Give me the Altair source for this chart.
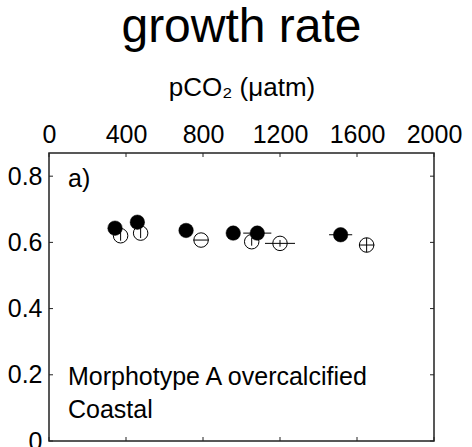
import altair as alt
import pandas as pd

# ---- data ----
filled_x = [343, 459, 712, 957, 1082, 1515]
filled_y = [0.643, 0.661, 0.636, 0.628, 0.628, 0.623]
filled_xerr = [0, 0, 0, 0, 73, 60]
filled_yerr = [0, 0, 0, 0, 0, 0]

open_x = [372, 476, 790, 1053, 1200, 1650]
open_y = [0.620, 0.628, 0.607, 0.602, 0.597, 0.592]
open_xerr = [0, 0, 40, 0, 78, 40]
open_yerr = [0.015, 0.015, 0, 0.012, 0.010, 0.022]

x_ticks = [0, 400, 800, 1200, 1600, 2000]
y_ticks = [0, 0.2, 0.4, 0.6, 0.8]

W, H = 385, 288
FONT = "Liberation Sans"

filled = pd.DataFrame({"x": filled_x, "y": filled_y, "xe": filled_xerr, "ye": filled_yerr})
filled["x0"] = filled.x - filled.xe
filled["x1"] = filled.x + filled.xe
filled["y0"] = filled.y - filled.ye
filled["y1"] = filled.y + filled.ye
opn = pd.DataFrame({"x": open_x, "y": open_y, "xe": open_xerr, "ye": open_yerr})
opn["x0"] = opn.x - opn.xe
opn["x1"] = opn.x + opn.xe
opn["y0"] = opn.y - opn.ye
opn["y1"] = opn.y + opn.ye

xs = alt.Scale(domain=[0, 2000], nice=False, zero=False)
ys = alt.Scale(domain=[0, 0.87], nice=False, zero=False)

xaxis = alt.Axis(orient="top", values=x_ticks, format="d", ticks=False, tickSize=0,
                 domain=False, grid=False, labelFontSize=25, labelFont=FONT,
                 labelColor="black", labelPadding=6, labelOverlap=False, labelFlush=False,
                 labelBound=False, title="pCO₂ (μatm)",
                 titleFontSize=26, titleFont=FONT, titleFontWeight="normal",
                 titleColor="black", titlePadding=22)
yaxis = alt.Axis(values=y_ticks, labelExpr="datum.value == 0 ? '0' : format(datum.value, '.1f')",
                 ticks=False, tickSize=0, domain=False, grid=False, labelFontSize=25,
                 labelFont=FONT, labelColor="black", labelPadding=7, labelOverlap=False,
                 labelFlush=False, labelBound=False, title=None)

X = alt.X("x:Q", scale=xs, axis=xaxis)
Y = alt.Y("y:Q", scale=ys, axis=yaxis)

open_pts = alt.Chart(opn).mark_point(shape="circle", filled=True, fill="white",
                                     stroke="black", strokeWidth=1, size=210, opacity=1).encode(x=X, y=Y)
open_h = alt.Chart(opn[opn.xe > 0]).mark_rule(color="black", strokeWidth=1).encode(
    x=alt.X("x0:Q", scale=xs), x2="x1:Q", y=alt.Y("y:Q", scale=ys))
open_v = alt.Chart(opn[opn.ye > 0]).mark_rule(color="black", strokeWidth=1).encode(
    x=alt.X("x:Q", scale=xs), y=alt.Y("y0:Q", scale=ys), y2="y1:Q")
fill_h = alt.Chart(filled[filled.xe > 0]).mark_rule(color="black", strokeWidth=1).encode(
    x=alt.X("x0:Q", scale=xs), x2="x1:Q", y=alt.Y("y:Q", scale=ys))
fill_pts = alt.Chart(filled).mark_point(shape="circle", filled=True, fill="black",
                                        stroke="black", strokeWidth=0.5, size=210, opacity=1).encode(x=X, y=Y)

xt = pd.DataFrame({"t": x_ticks})
yt = pd.DataFrame({"t": y_ticks})
tick_top = alt.Chart(xt).mark_rule(color="#222", strokeWidth=1).encode(
    x=alt.X("t:Q", scale=xs), y=alt.value(0), y2=alt.value(4))
tick_bot = alt.Chart(xt).mark_rule(color="#222", strokeWidth=1).encode(
    x=alt.X("t:Q", scale=xs), y=alt.value(H - 4), y2=alt.value(H))
tick_left = alt.Chart(yt).mark_rule(color="#222", strokeWidth=1).encode(
    y=alt.Y("t:Q", scale=ys), x=alt.value(0), x2=alt.value(4))
tick_right = alt.Chart(yt).mark_rule(color="#222", strokeWidth=1).encode(
    y=alt.Y("t:Q", scale=ys), x=alt.value(W - 4), x2=alt.value(W))

lab_a = alt.Chart(pd.DataFrame({"t": ["a)"]})).mark_text(
    align="left", baseline="alphabetic", fontSize=25, font=FONT, color="black").encode(
    text="t:N", x=alt.value(19), y=alt.value(34))
lab_m = alt.Chart(pd.DataFrame({"t": ["Morphotype A overcalcified\nCoastal"]})).mark_text(
    align="left", baseline="alphabetic", fontSize=25, font=FONT, color="black",
    lineBreak="\n", lineHeight=33).encode(
    text="t:N", x=alt.value(19), y=alt.value(232))

chart = alt.layer(
    open_pts, open_h, open_v, fill_h, fill_pts,
    tick_top, tick_bot, tick_left, tick_right, lab_a, lab_m
).properties(
    width=W, height=H,
    background="white",
    title=alt.TitleParams("growth rate", fontSize=48, font=FONT, fontWeight="normal",
                          color="black", anchor="middle", offset=22),
    autosize=alt.AutoSizeParams(type="none"),
    padding={"left": 49, "top": 153, "right": 38, "bottom": 6},
).configure_view(stroke="#222", strokeWidth=1.5)

chart.save("out.html", embed_options={"renderer": "svg", "actions": False})
